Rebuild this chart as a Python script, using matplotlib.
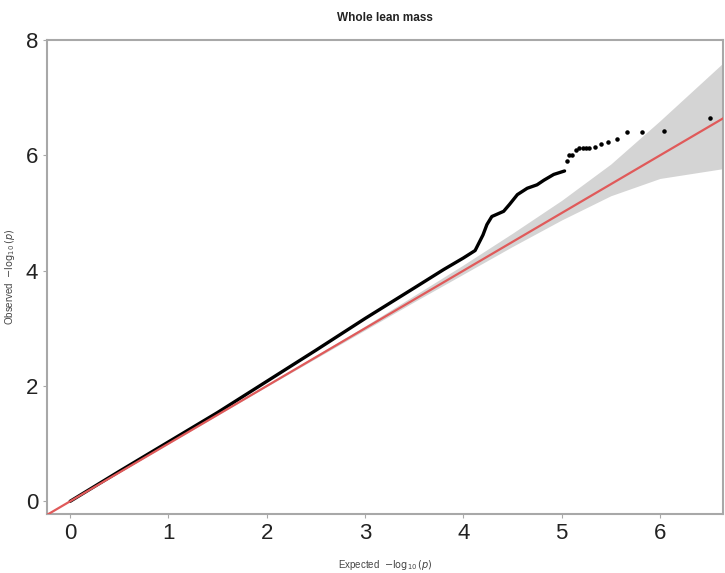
import matplotlib
matplotlib.use('Agg')
import matplotlib.pyplot as plt

plt.rcParams['font.family'] = ['Liberation Sans Narrow', 'Liberation Sans', 'DejaVu Sans']

# QQ curve (dense part)
exp_line = [0, 0.5, 1, 1.5, 2, 2.5, 3, 3.5, 3.8, 4.0, 4.12, 4.2, 4.24, 4.29,
            4.41, 4.47, 4.55, 4.65, 4.75, 4.82, 4.92, 5.03]
obs_line = [0, 0.52, 1.03, 1.54, 2.08, 2.62, 3.17, 3.70, 4.02, 4.22, 4.35, 4.62,
            4.80, 4.94, 5.03, 5.15, 5.32, 5.43, 5.49, 5.57, 5.67, 5.73]

# top hits (separate points)
exp_pts = [5.05, 5.08, 5.11, 5.15, 5.18, 5.22, 5.25, 5.28, 5.34, 5.40, 5.47,
           5.56, 5.67, 5.82, 6.04, 6.51]
obs_pts = [5.90, 6.00, 6.01, 6.10, 6.12, 6.12, 6.12, 6.12, 6.14, 6.20, 6.23,
           6.28, 6.41, 6.41, 6.43, 6.65]

# confidence band
band_x = [0, 2, 3, 3.5, 4, 4.5, 5, 5.5, 6, 6.64]
band_lo = [0, 1.99, 2.97, 3.46, 3.94, 4.42, 4.88, 5.3, 5.6, 5.77]
band_hi = [0, 2.02, 3.04, 3.57, 4.1, 4.65, 5.22, 5.85, 6.6, 7.6]

xlim = (-0.234, 6.64)
ylim = (-0.22, 8.0)

fig = plt.figure(figsize=(7.25, 5.73), dpi=100)
ax = fig.add_axes([0.065, 0.103, 0.932, 0.827])

ax.fill_between(band_x, band_lo, band_hi, color='#d4d4d4', linewidth=0, zorder=1)
ax.plot(exp_line, obs_line, color='black', linewidth=2.4, solid_capstyle='round', zorder=2)
ax.scatter(exp_pts, obs_pts, s=5, color='black', zorder=3)
ax.plot(xlim, xlim, color='#e05a5a', linewidth=1.6, zorder=4)

ax.set_xlim(xlim)
ax.set_ylim(ylim)
ax.set_xticks([0, 1, 2, 3, 4, 5, 6])
ax.set_yticks([0, 2, 4, 6, 8])

for s in ax.spines.values():
    s.set_color('#a8a8a8')
    s.set_linewidth(1.5)
ax.tick_params(colors='#a8a8a8', labelcolor='#222222', labelsize=16, length=3, width=0.8)

ax.set_title('Whole lean mass', fontsize=8.5, fontweight='bold', color='#222222', pad=14)
ax.set_xlabel(r'Expected  $-\log_{10}(p)$', fontsize=7, color='#444444', labelpad=10)
ax.set_ylabel(r'Observed  $-\log_{10}(p)$', fontsize=7, color='#444444')
ax.yaxis.set_label_coords(-0.044, 0.5)

fig.savefig('out.png', dpi=100)
